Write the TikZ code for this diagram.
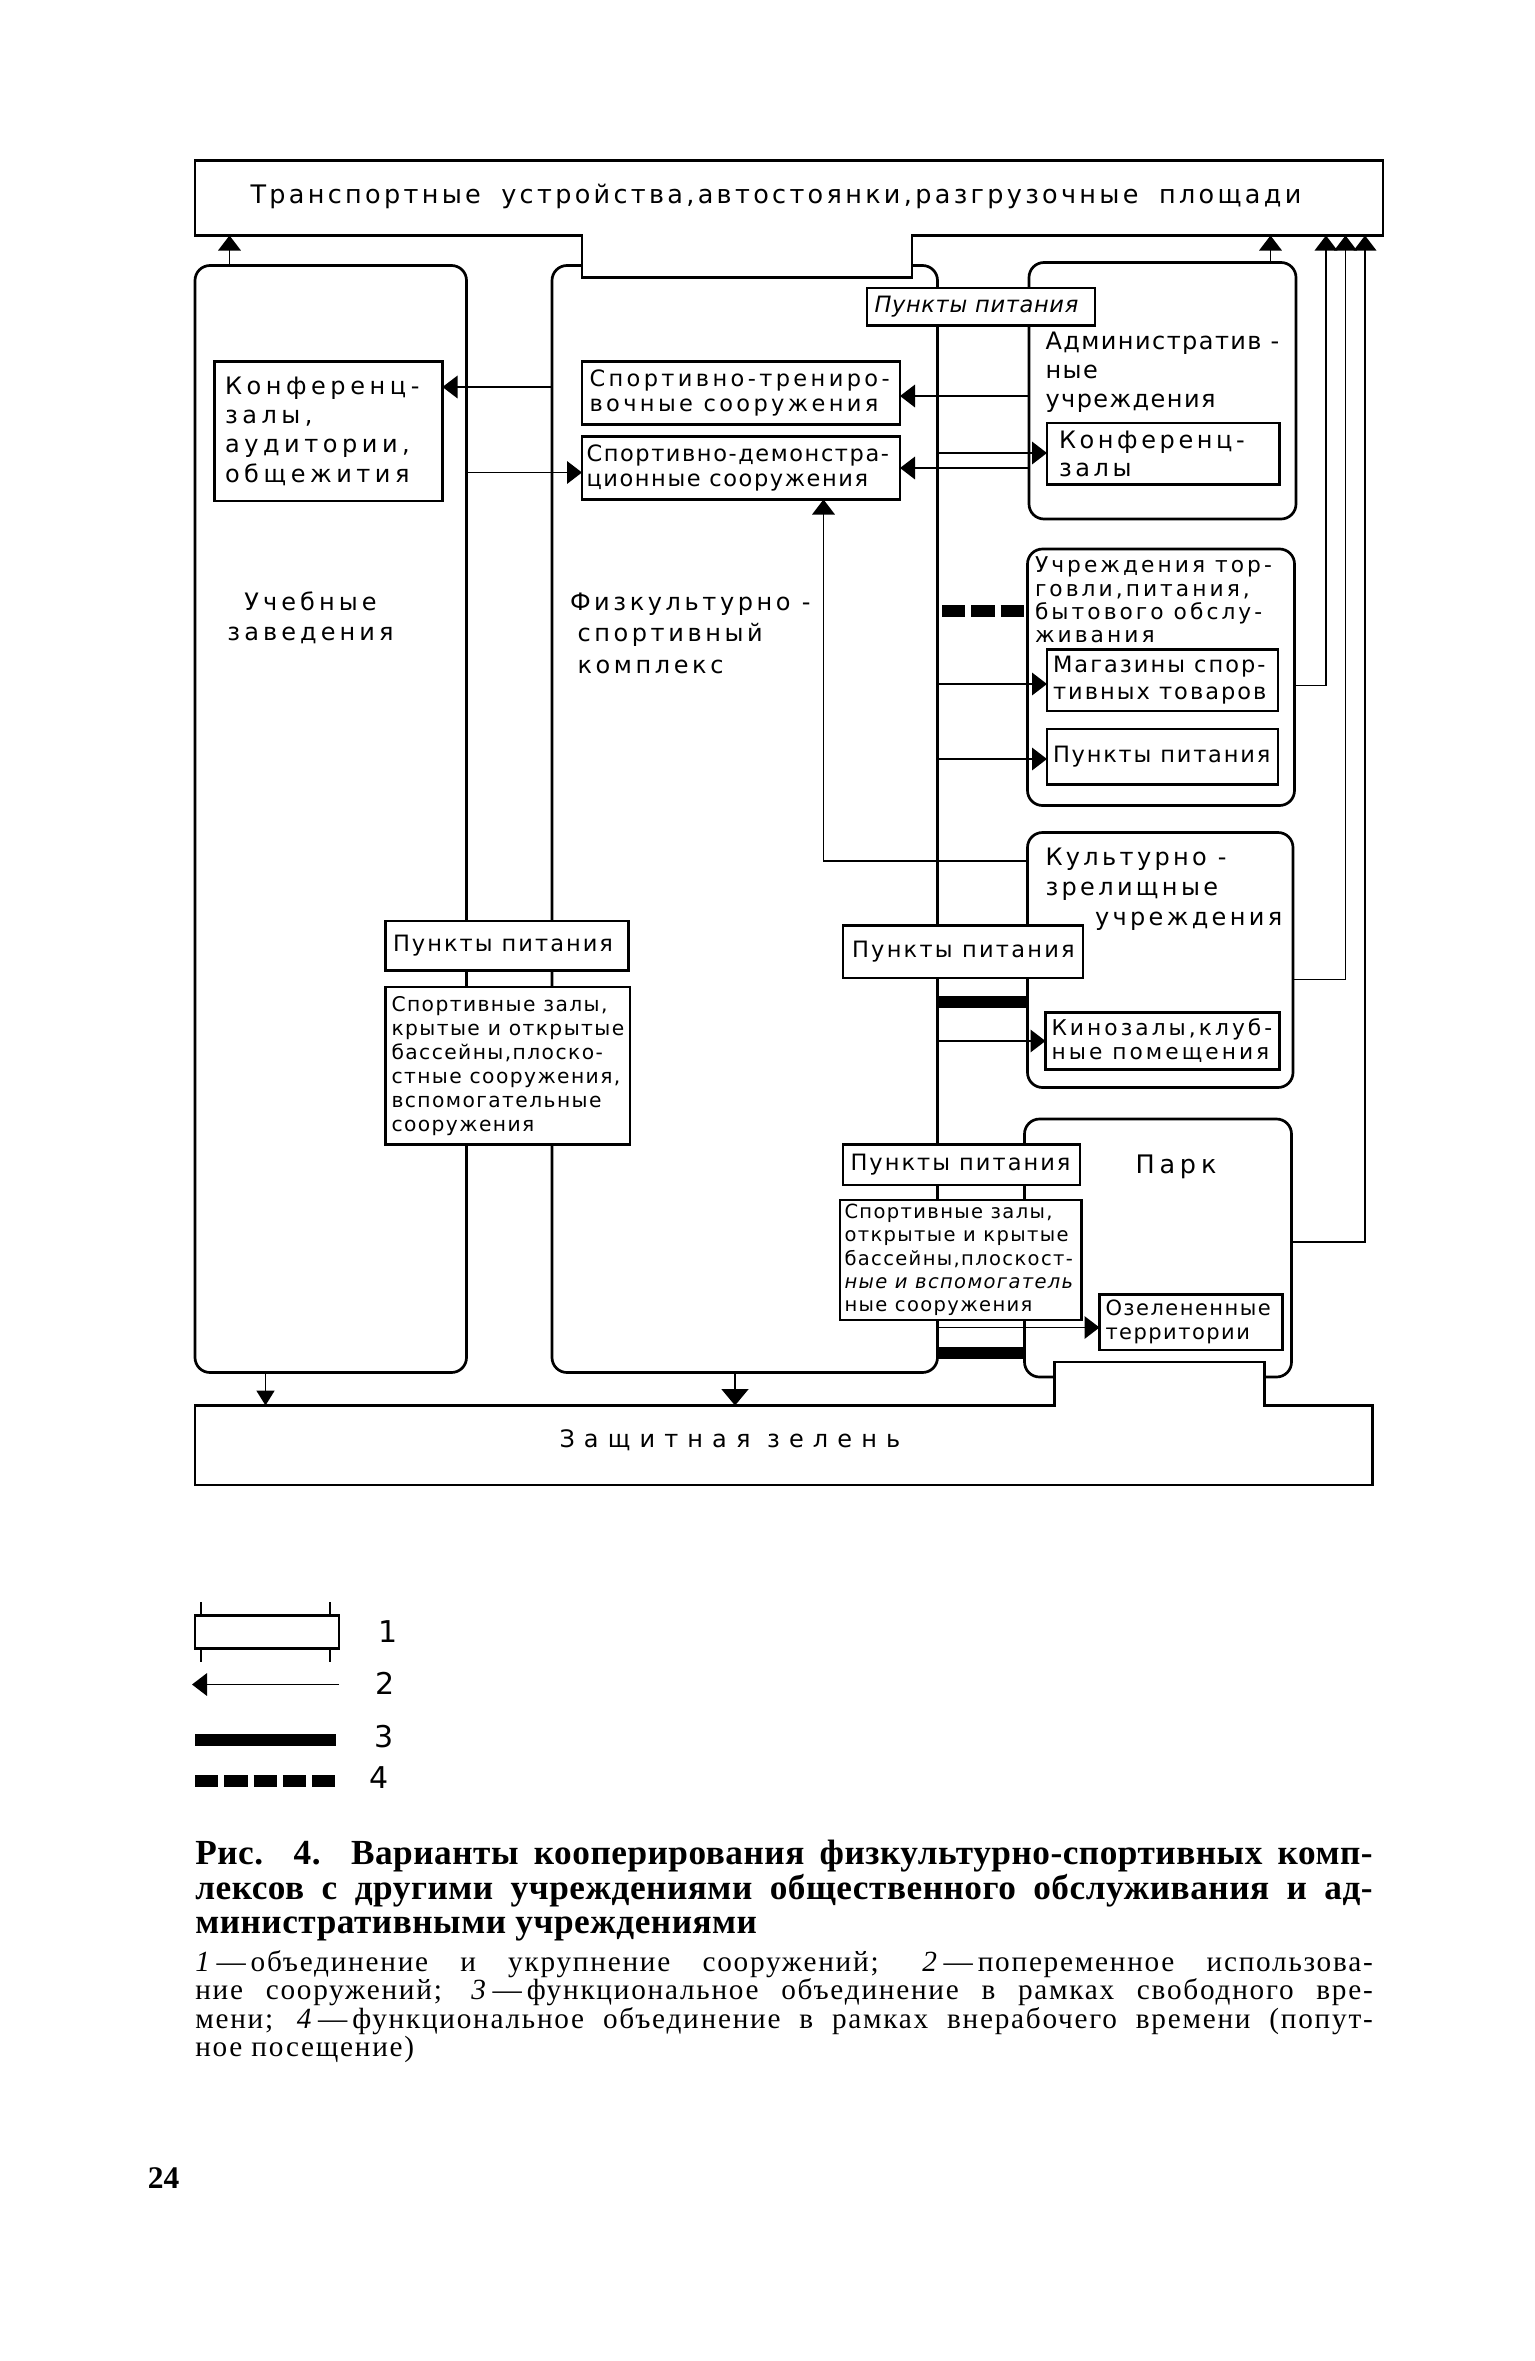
\documentclass[tikz,border=0pt]{standalone}
\usepackage{fontspec}
\setmainfont{Liberation Serif}
\newfontfamily\dfont{DejaVu Sans}
\usetikzlibrary{arrows.meta}
\newcommand\dg[3]{\dfont\fontsize{#1}{#2}\selectfont\addfontfeature{LetterSpace=#3}}
\newcommand\dgi[3]{\dfont\itshape\fontsize{#1}{#2}\selectfont\addfontfeature{LetterSpace=#3}}
\begin{document}
\begin{tikzpicture}[x=1pt,y=-1pt,
  cont/.style={draw, line width=1.8pt, rounded corners=10pt, inner sep=0pt, outer sep=0pt, anchor=north west},
  bx/.style 2 args={draw, fill=white, line width=1.8pt, inner sep=0pt, outer sep=0pt, anchor=north west, minimum width=#1pt, minimum height=#2pt},
  frame/.style={inner sep=0pt, outer sep=0pt, anchor=north west},
  lbl/.style={inner sep=0pt, outer sep=0pt, align=left},
  edge/.style={line width=1.8pt, line join=miter},
  conn/.style={line width=1.2pt},
  arr/.style={conn, -{Triangle[length=10pt,width=15pt]}},
  arrsm/.style={conn, -{Triangle[length=10pt,width=12pt]}},
  arrbig/.style={conn, -{Triangle[length=11pt,width=18pt]}},
  bar3/.style={line width=8pt},
  bar4/.style={line width=8pt, dash pattern=on 15.5pt off 4pt}
]
\useasboundingbox (0,0) rectangle (1023.33,1574);

% ---------- containers ----------
\node[cont, minimum width=181pt, minimum height=738pt] (ucheb) at (130,177) {};
\node[cont, minimum width=257pt, minimum height=738pt] (fiz) at (368,177) {};
\node[cont, minimum width=178pt, minimum height=171pt] (adm) at (686,175) {};
\node[cont, minimum width=178pt, minimum height=171pt] (torg) at (685,366) {};
\node[cont, minimum width=177pt, minimum height=170pt] (kult) at (685,555) {};
\node[cont, minimum width=178pt, minimum height=172pt] (park) at (683,746) {};

% ---------- top band with notch ----------
\node[frame, minimum width=792pt, minimum height=50pt] (trans) at (130,107) {};
\coordinate (nL) at (388,185);
\coordinate (nR) at (608,185);
\draw[edge, fill=white] (trans.south west) -- (trans.south west -| nL) -- (nL) -- (nR)
  -- (nR |- trans.south) -- (trans.south east) -- (trans.north east) -- (trans.north west) -- cycle;
\node[lbl, anchor=west, font=\dg{17}{20}{13}] (transT) at (167,131)
  {Транспортные\hspace{6pt} устройства,автостоянки,разгрузочные\hspace{6pt} площади};

% ---------- bottom band with bump ----------
\node[frame, minimum width=785pt, minimum height=53pt] (zasch) at (130,937) {};
\coordinate (bL) at (703,908);
\coordinate (bR) at (843,908);
\draw[edge, fill=white] (zasch.south west) -- (zasch.north west) -- (zasch.north west -| bL) -- (bL) -- (bR)
  -- (bR |- zasch.north) -- (zasch.north east) -- (zasch.south east) -- cycle;
\node[lbl, anchor=west, font=\dg{16}{18}{38}] (zaschT) at (373,960) {Защитная зелень};

% ---------- container labels ----------
\node[lbl, align=center, font=\dg{16}{20}{17}] (uchebT) at (207,412) {Учебные\\заведения};
\node[lbl, anchor=west, font=\dg{16}{21}{15}] (fizT) at (380,422)
  {Физкультурно -\\\hspace*{5pt}спортивный\\\hspace*{5pt}комплекс};
\node[lbl, anchor=west, font=\dg{16}{19.5}{6}] (admT) at (697,248)
  {Административ -\\ные\\учреждения};
\node[lbl, anchor=west, font=\dg{14.5}{15.5}{14}] (torgT) at (690,400)
  {Учреждения тор-\\говли,питания,\\бытового обслу-\\живания};
\node[lbl, anchor=west, font=\dg{16}{20}{14}] (kultT) at (697,593)
  {Культурно -\\зрелищные\\\hspace*{33pt}учреждения};
\node[lbl, anchor=west, font=\dg{17}{18}{19}] (parkT) at (757,778) {Парк};

% ---------- boxes ----------
\node[bx={152}{93}] (konfU) at (143,241) {};
\node[bx={212}{42}] (strenir) at (388,241) {};
\node[bx={212}{42}] (sdemo) at (388,291) {};
\node[bx={152}{25}] (pitTop) at (578,192) {};
\node[bx={155}{41}] (admKonf) at (698,282) {};
\node[bx={154}{41}] (magaz) at (698,433) {};
\node[bx={154}{37}] (pitTorg) at (698,486) {};
\node[bx={156}{38}] (kino) at (697,675) {};
\node[bx={122}{37}] (ozel) at (733,863) {};
\node[bx={160}{35}] (pitMid) at (562,617) {};
\node[bx={162}{33}] (pitLeft) at (257,614) {};
\node[bx={163}{105}] (sportLeft) at (257,658) {};
\node[bx={158}{27}] (pitPark) at (562,763) {};
\node[bx={161}{80}] (sportPark) at (560,800) {};

\node[lbl, anchor=west, font=\dg{16}{19.5}{19}] (konfUT) at ([xshift=7pt]konfU.west)
  {Конференц-\\залы,\\аудитории,\\общежития};
\node[lbl, anchor=west, font=\dg{15}{17}{15}] (strenirT) at ([xshift=5pt]strenir.west)
  {Спортивно-трениро-\\вочные сооружения};
\node[lbl, anchor=west, font=\dg{15}{17}{7}] (sdemoT) at ([xshift=3pt]sdemo.west)
  {Спортивно-демонстра-\\ционные сооружения};
\node[lbl, anchor=west, font=\dgi{15}{17}{3}] (pitTopT) at ([xshift=5pt]pitTop.west) {Пункты питания};
\node[lbl, anchor=west, font=\dg{16}{19}{15}] (admKonfT) at ([xshift=8pt]admKonf.west) {Конференц-\\залы};
\node[lbl, anchor=west, font=\dg{15}{18}{9}] (magazT) at ([xshift=4pt]magaz.west) {Магазины спор-\\тивных товаров};
\node[lbl, anchor=west, font=\dg{15}{17}{8}] (pitTorgT) at ([xshift=4pt]pitTorg.west) {Пункты питания};
\node[lbl, anchor=west, font=\dg{14.5}{16}{14}] (kinoT) at ([xshift=4pt]kino.west) {Кинозалы,клуб-\\ные помещения};
\node[lbl, anchor=west, font=\dg{14}{16}{7}] (ozelT) at ([xshift=4pt]ozel.west) {Озелененные\\территории};
\node[lbl, anchor=west, font=\dg{15}{17}{10}] (pitMidT) at ([xshift=6pt]pitMid.west) {Пункты питания};
\node[lbl, anchor=west, font=\dg{15}{17}{9}] (pitLeftT) at ([xshift=5pt]pitLeft.west) {Пункты питания};
\node[lbl, anchor=west, font=\dg{13.5}{16}{7}] (sportLeftT) at ([xshift=4pt]sportLeft.west)
  {Спортивные залы,\\крытые и открытые\\бассейны,плоско-\\стные сооружения,\\вспомогательные\\сооружения};
\node[lbl, anchor=west, font=\dg{15}{17}{9}] (pitParkT) at ([xshift=5pt]pitPark.west) {Пункты питания};
\node[lbl, anchor=west, font=\dg{13}{15.5}{7}] (sportParkT) at ([xshift=3pt]sportPark.west)
  {Спортивные залы,\\открытые и крытые\\бассейны,плоскост-\\{\itshape ные и вспомогатель}\\ные сооружения};

% ---------- connectors ----------
\draw[arr] (153,0 |- ucheb.north) -- (153,0 |- trans.south);
\draw[arr] (847,0 |- adm.north) -- (847,0 |- trans.south);
\draw[arr] (torg.east |- 0,457) -| (884,0 |- trans.south);
\draw[arr] (kult.east |- 0,653) -| (897,0 |- trans.south);
\draw[arr] (park.east |- 0,828) -| (910,0 |- trans.south);

\draw[arrsm] (177,0 |- ucheb.south) -- (177,0 |- zasch.north);
\draw[arrbig] (490,0 |- fiz.south) -- (490,0 |- zasch.north);

\draw[arr] (fiz.west |- 0,258) -- (konfU.east |- 0,258);
\draw[arr] (ucheb.east |- 0,315) -- (sdemo.west |- 0,315);
\draw[arr] (adm.west |- 0,264) -- (strenir.east |- 0,264);
\draw[arr] (fiz.east |- 0,302) -- (admKonf.west |- 0,302);
\draw[arr] (adm.west |- 0,312) -- (sdemo.east |- 0,312);
\draw[arr] (kult.west |- 0,574) -| (549,0 |- sdemo.south);

\draw[bar4] ([xshift=3pt]fiz.east |- 0,407) -- (torg.west |- 0,407);
\draw[arr] (fiz.east |- 0,456) -- (magaz.west |- 0,456);
\draw[arr] (fiz.east |- 0,506) -- (pitTorg.west |- 0,506);
\draw[bar3] (fiz.east |- 0,668) -- (kult.west |- 0,668);
\draw[arr] (fiz.east |- 0,694) -- (kino.west |- 0,694);
\draw[arr] (fiz.east |- 0,885) -- (ozel.west |- 0,885);
\draw[bar3] (fiz.east |- 0,902) -- (park.west |- 0,902);

% ---------- legend ----------
\node[bx={96}{22}] (leg1) at (130,1077) {};
\draw[conn] ([xshift=4pt]leg1.north west) -- ++(0,-9);
\draw[conn] ([xshift=4pt]leg1.south west) -- ++(0,9);
\draw[conn] ([xshift=-6pt]leg1.north east) -- ++(0,-9);
\draw[conn] ([xshift=-6pt]leg1.south east) -- ++(0,9);
\coordinate (l2s) at (226,1123);
\coordinate (l2e) at (128,1123);
\draw[arr] (l2s) -- (l2e);
\coordinate (l3s) at (130,1160);
\coordinate (l3e) at (224,1160);
\draw[bar3] (l3s) -- (l3e);
\coordinate (l4s) at (130,1187);
\coordinate (l4e) at (224,1187);
\draw[bar4] (l4s) -- (l4e);
\node[lbl, font=\dg{20}{22}{0}] (lg1) at (259,1088) {1};
\node[lbl, font=\dg{20}{22}{0}] (lg2) at (257,1122) {2};
\node[lbl, font=\dg{20}{22}{0}] (lg3) at (256,1158) {3};
\node[lbl, font=\dg{20}{22}{0}] (lg4) at (253,1185) {4};

% ---------- caption ----------
\node[anchor=base west, inner sep=0pt, font=\fontsize{23.5}{23}\selectfont\bfseries\addfontfeature{LetterSpace=1.5}] (cap1) at (130,1243)
  {\makebox[785pt][s]{Рис. 4. Варианты кооперирования физкультурно-спортивных комп-}};
\node[anchor=base west, inner sep=0pt, font=\fontsize{23.5}{23}\selectfont\bfseries\addfontfeature{LetterSpace=1.5}] (cap2) at (130,1266)
  {\makebox[785pt][s]{лексов с другими учреждениями общественного обслуживания и ад-}};
\node[anchor=base west, inner sep=0pt, font=\fontsize{23.5}{23}\selectfont\bfseries\addfontfeature{LetterSpace=1.5}] (cap3) at (130,1289)
  {министративными учреждениями};
\node[anchor=base west, inner sep=0pt, font=\fontsize{19.5}{19}\selectfont\addfontfeature{LetterSpace=6}] (cap4) at (130,1314)
  {\makebox[785pt][s]{\textit{1}\,—\,объединение и укрупнение сооружений; \textit{2}\,—\,попеременное использова-}};
\node[anchor=base west, inner sep=0pt, font=\fontsize{19.5}{19}\selectfont\addfontfeature{LetterSpace=6}] (cap5) at (130,1333)
  {\makebox[785pt][s]{ние сооружений; \textit{3}\,—\,функциональное объединение в рамках свободного вре-}};
\node[anchor=base west, inner sep=0pt, font=\fontsize{19.5}{19}\selectfont\addfontfeature{LetterSpace=6}] (cap6) at (130,1352)
  {\makebox[785pt][s]{мени; \textit{4}\,—\,функциональное объединение в рамках внерабочего времени (попут-}};
\node[anchor=base west, inner sep=0pt, font=\fontsize{19.5}{19}\selectfont\addfontfeature{LetterSpace=6}] (cap7) at (130,1371)
  {ное посещение)};
\node[inner sep=0pt, font=\fontsize{21}{24}\selectfont\bfseries] (pg) at (109,1452) {24};
\end{tikzpicture}
\end{document}
